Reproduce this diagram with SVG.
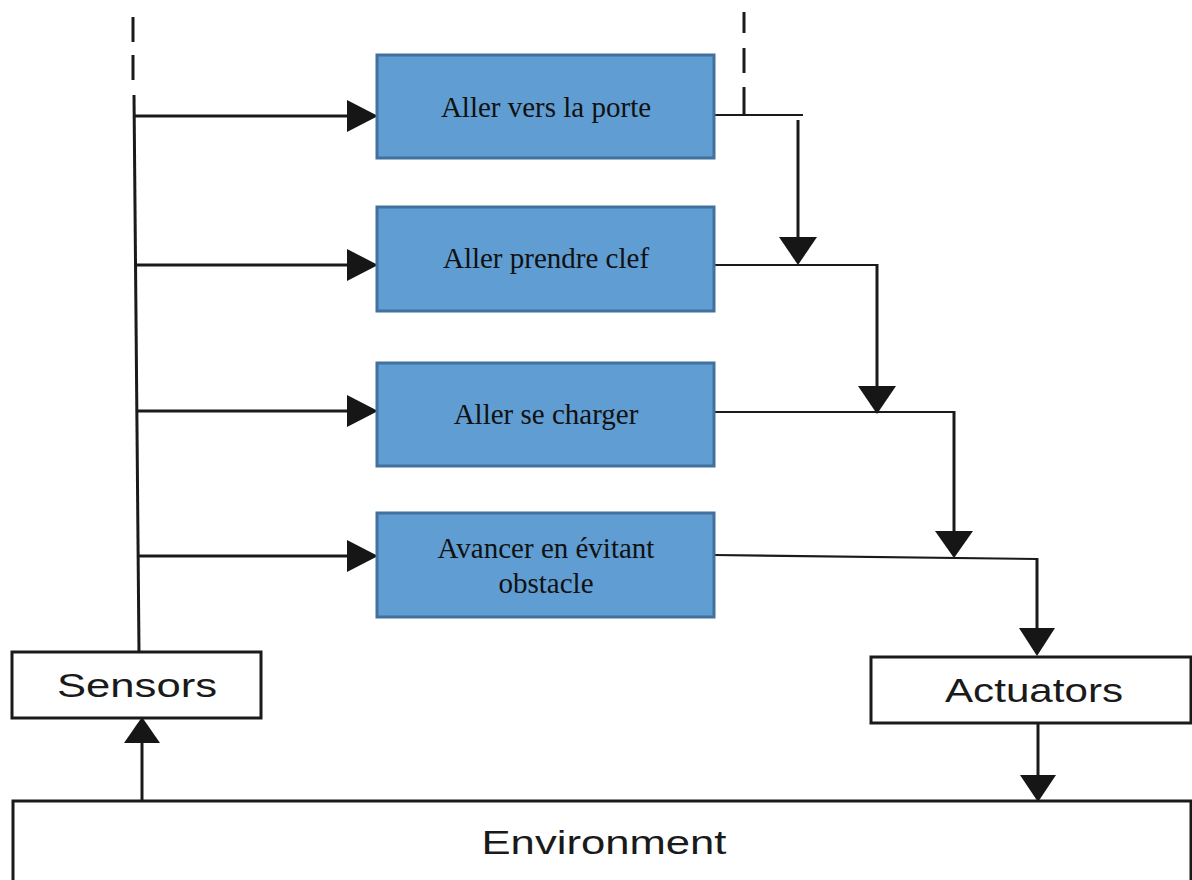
<svg xmlns="http://www.w3.org/2000/svg" width="1192" height="880" viewBox="0 0 1192 880">
<defs>
<style>
.blue{fill:#5f9dd2;stroke:#41719c;stroke-width:3}
.box{fill:#fff;stroke:#1a1a1a;stroke-width:3}
.serif{font-family:"Liberation Serif","DejaVu Serif",serif;font-size:29px;fill:#111;text-anchor:middle}
.sans{font-family:"Liberation Sans",Arial,sans-serif;font-size:34px;fill:#1a1a1a;text-anchor:middle}
.ln{stroke:#1a1a1a;stroke-width:3;fill:none}
.thin{stroke:#1a1a1a;stroke-width:2.2;fill:none}
.head{fill:#161616}
</style>
</defs>
<rect width="1192" height="880" fill="#fff"/>
<g id="connectors">
<line class="ln" x1="133" y1="17" x2="133" y2="42"/>
<line class="ln" x1="133" y1="55" x2="133" y2="80"/>
<line class="ln" x1="134" y1="95" x2="139" y2="652"/>
<line class="ln" x1="134" y1="116" x2="350" y2="116"/>
<polygon class="head" points="378,116 347,100 347,132"/>
<line class="ln" x1="136" y1="265" x2="350" y2="265"/>
<polygon class="head" points="378,265 347,249 347,281"/>
<line class="ln" x1="137" y1="411" x2="350" y2="411"/>
<polygon class="head" points="378,411 347,395 347,427"/>
<line class="ln" x1="139" y1="556" x2="350" y2="556"/>
<polygon class="head" points="378,556 347,540 347,572"/>
<line class="ln" x1="744" y1="12" x2="744" y2="33"/>
<line class="ln" x1="744" y1="48" x2="744" y2="73"/>
<line class="ln" x1="744" y1="87" x2="744" y2="115"/>
<polyline class="thin" points="714,115 803,115"/>
<line class="ln" x1="798" y1="120" x2="798" y2="240"/>
<polygon class="head" points="798,265 779,237 817,237"/>
<polyline class="thin" points="714,265 877,265"/>
<line class="ln" x1="877" y1="264" x2="877" y2="390"/>
<polygon class="head" points="877,414 858,386 896,386"/>
<polyline class="thin" points="714,412 954,412"/>
<line class="ln" x1="954" y1="411" x2="954" y2="535"/>
<polygon class="head" points="954,558 935,531 973,531"/>
<polyline class="thin" points="714,555 1037,559"/>
<line class="ln" x1="1037" y1="558" x2="1037" y2="630"/>
<polygon class="head" points="1037,656 1019,628 1055,628"/>
<line class="ln" x1="1038" y1="723" x2="1038" y2="778"/>
<polygon class="head" points="1038,802 1020,775 1056,775"/>
<line class="ln" x1="142" y1="801" x2="142" y2="740"/>
<polygon class="head" points="142,717 124,743 160,743"/>
</g>
<g id="n1">
<rect class="blue" x="377" y="55" width="337" height="103"/>
<text class="serif" x="546" y="117">Aller vers la porte</text>
</g>
<g id="n2">
<rect class="blue" x="377" y="207" width="337" height="104"/>
<text class="serif" x="546" y="268">Aller prendre clef</text>
</g>
<g id="n3">
<rect class="blue" x="377" y="363" width="337" height="103"/>
<text class="serif" x="546" y="424">Aller se charger</text>
</g>
<g id="n4">
<rect class="blue" x="377" y="513" width="337" height="104"/>
<text class="serif" x="546" y="558">Avancer en évitant</text>
<text class="serif" x="546" y="593">obstacle</text>
</g>
<g id="sensors">
<rect class="box" x="12" y="652" width="249" height="66"/>
<text class="sans" x="137" y="697" textLength="160" lengthAdjust="spacingAndGlyphs">Sensors</text>
</g>
<g id="actuators">
<rect class="box" x="871" y="657" width="320" height="66"/>
<text class="sans" x="1034" y="702" font-size="33" textLength="178" lengthAdjust="spacingAndGlyphs">Actuators</text>
</g>
<g id="environment">
<rect class="box" x="13" y="801" width="1178" height="100"/>
<text class="sans" x="604" y="854" textLength="245" lengthAdjust="spacingAndGlyphs">Environment</text>
</g>
</svg>
